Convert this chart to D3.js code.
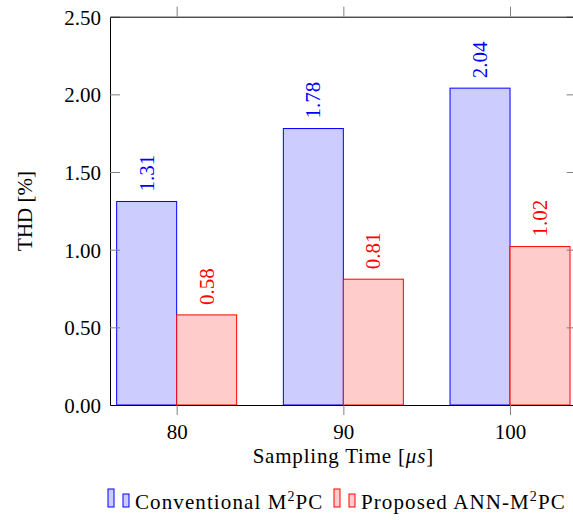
<!DOCTYPE html>
<html>
<head>
<meta charset="utf-8">
<script src="https://cdn.jsdelivr.net/npm/d3@7"></script>
<style>
body { margin: 0; background: #fff; }
svg text { font-family: "Liberation Serif", "Times New Roman", serif !important; }
</style>
</head>
<body>
<div id="plot"></div>
<script>
// data
var categories = [80, 90, 100];
var conventional = [1.31, 1.78, 2.04];
var proposed = [0.58, 0.81, 1.02];
var yTicks = [0, 0.5, 1, 1.5, 2, 2.5];
var seriesNames = ["Conventional M", "Proposed ANN-M"];

var width = 573, height = 520;

var svg = d3.select("#plot")
  .append("svg")
  .attr("width", width)
  .attr("height", height);

var x = d3.scaleLinear()
  .domain([76, 104])
  .range([110, 576.7]);

var y = d3.scaleLinear()
  .domain([0, 2.5])
  .range([405, 16.7]);

var barW = 3.6;
var series = [
  {values: conventional, off: -barW, fill: "#ccccff", stroke: "#0000ff", name: seriesNames[0]},
  {values: proposed, off: 0, fill: "#ffcccc", stroke: "#ff0000", name: seriesNames[1]}
];

// bars
series.forEach(function(s) {
  var g = svg.append("g");
  g.selectAll("rect")
    .data(categories)
    .enter()
    .append("rect")
    .attr("x", function(d) { return x(d + s.off); })
    .attr("width", function(d) { return x(d + s.off + barW) - x(d + s.off); })
    .attr("y", function(d, i) { return y(s.values[i]); })
    .attr("height", function(d, i) { return y(0) - y(s.values[i]); })
    .attr("fill", s.fill)
    .attr("stroke", s.stroke)
    .attr("stroke-width", 1);

  // value labels, rotated
  g.selectAll("text")
    .data(categories)
    .enter()
    .append("text")
    .attr("transform", function(d, i) {
      var cx = x(d + s.off + barW / 2);
      return "translate(" + (cx + 7) + "," + (y(s.values[i]) - 10) + ") rotate(-90)";
    })
    .attr("fill", s.stroke)
    .attr("font-size", 21)
    .text(function(d, i) { return s.values[i].toFixed(2); });
});

function styleAxis(g) {
  g.attr("font-family", null);
  g.select(".domain").attr("stroke", "#000");
  g.selectAll(".tick line").attr("stroke", "#808080");
  g.selectAll(".tick text").attr("fill", "#000").attr("font-size", 21);
}

// left axis
svg.append("g")
  .attr("transform", "translate(110,0)")
  .call(d3.axisLeft(y).tickValues(yTicks).tickFormat(d3.format(".2f"))
    .tickSizeInner(-10).tickSizeOuter(0).tickPadding(9))
  .call(styleAxis)
  .selectAll(".tick text").attr("dy", "0.36em");

// right axis (clipped by the window)
svg.append("g")
  .attr("transform", "translate(576.7,0)")
  .call(d3.axisRight(y).tickValues(yTicks).tickFormat("")
    .tickSizeInner(-10).tickSizeOuter(0))
  .call(styleAxis);

// bottom axis
svg.append("g")
  .attr("transform", "translate(0,405)")
  .call(d3.axisBottom(x).tickValues(categories)
    .tickSizeInner(10).tickSizeOuter(0).tickPadding(9))
  .call(styleAxis);

// top axis
svg.append("g")
  .attr("transform", "translate(0,16.7)")
  .call(d3.axisTop(x).tickValues(categories).tickFormat("")
    .tickSizeInner(10).tickSizeOuter(0))
  .call(styleAxis);

// axis titles
var xTitle = svg.append("text")
  .attr("x", 343.3)
  .attr("y", 463)
  .attr("text-anchor", "middle")
  .attr("font-size", 21)
  .attr("letter-spacing", 0.8);
xTitle.append("tspan").text("Sampling Time [");
xTitle.append("tspan").attr("font-style", "italic").text("μs");
xTitle.append("tspan").text("]");

svg.append("text")
  .attr("transform", "translate(32,211) rotate(-90)")
  .attr("text-anchor", "middle")
  .attr("font-size", 21)
  .text("THD [%]");

// legend
var legendX = [108, 334];
series.forEach(function(s, i) {
  var lg = svg.append("g").attr("transform", "translate(" + legendX[i] + ",0)");
  lg.append("rect")
    .attr("x", 0).attr("y", 489).attr("width", 6).attr("height", 18)
    .attr("fill", s.fill).attr("stroke", s.stroke);
  lg.append("rect")
    .attr("x", 15).attr("y", 494).attr("width", 6).attr("height", 13)
    .attr("fill", s.fill).attr("stroke", s.stroke);
  var t = lg.append("text")
    .attr("x", 27)
    .attr("y", 509)
    .attr("font-size", 21)
    .attr("letter-spacing", 1.1);
  t.append("tspan").text(s.name);
  t.append("tspan").attr("dy", -8).attr("font-size", 14).text("2");
  t.append("tspan").attr("dy", 8).text("PC");
});
</script>
</body>
</html>
